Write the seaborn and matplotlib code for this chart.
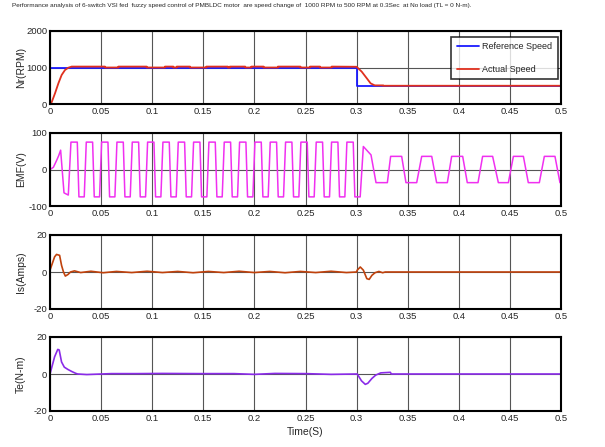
import seaborn as sns
from matplotlib import pyplot as plt

# ---- data ------------------------------------------------------------------
title = ("Performance analysis of 6-switch VSI fed  fuzzy speed control of PMBLDC motor  "
         "are speed change of  1000 RPM to 500 RPM at 0.3Sec  at No load (TL = 0 N-m).")

xticks = [0, 0.05, 0.1, 0.15, 0.2, 0.25, 0.3, 0.35, 0.4, 0.45, 0.5]
xtick_labels = ["0", "0.05", "0.1", "0.15", "0.2", "0.25", "0.3", "0.35", "0.4", "0.45", "0.5"]

# speed (RPM)
ref_t = [0, 0.3, 0.3, 0.5]
ref_v = [1000, 1000, 500, 500]
act_t = [0, 0.0016, 0.0049, 0.0082, 0.0114, 0.0147, 0.018, 0.0212,
         0.0538, 0.0538, 0.0669, 0.0669, 0.0946, 0.0946, 0.1125, 0.1125,
         0.1207, 0.1207, 0.124, 0.124, 0.137, 0.137, 0.153, 0.153,
         0.174, 0.174, 0.176, 0.176, 0.191, 0.191, 0.197, 0.197,
         0.209, 0.209, 0.223, 0.223, 0.245, 0.245, 0.2544, 0.2544,
         0.2642, 0.2642, 0.2756, 0.2756, 0.3, 0.305, 0.31, 0.3137,
         0.317, 0.318, 0.326, 0.326, 0.5]
act_v = [0, 46, 292, 566, 795, 932, 995, 1025,
         1025, 1000, 1000, 1025, 1025, 1000, 1000, 1025,
         1025, 1000, 1000, 1025, 1025, 1000, 1000, 1025,
         1025, 1000, 1000, 1025, 1025, 1000, 1000, 1025,
         1025, 1000, 1000, 1025, 1025, 1000, 1000, 1025,
         1025, 1000, 1000, 1025, 1020, 886, 703, 566,
         520, 510, 510, 500, 500]

# back EMF (V): start-up, plateau corners at 1000 RPM, transient, plateau corners at 500 RPM
emf_start_t = [0, 0.0033, 0.0065, 0.0085, 0.0104, 0.0137, 0.0179]
emf_start_v = [0, 6, 25, 38, 53, -64, -70]
emf1_level = 75
emf1_top_on = [0.0205, 0.0355, 0.0505, 0.0655, 0.0805, 0.0955, 0.1105, 0.1255, 0.1405, 0.1555,
               0.1705, 0.1855, 0.2005, 0.2155, 0.2305, 0.2455, 0.2605, 0.2755, 0.2905]
emf1_top_off = [0.0267, 0.0417, 0.0567, 0.0717, 0.0867, 0.1017, 0.1167, 0.1317, 0.1467, 0.1617,
                0.1767, 0.1917, 0.2067, 0.2217, 0.2367, 0.2517, 0.2667, 0.2817, 0.2967]
emf1_bot_on = [0.0283, 0.0433, 0.0583, 0.0733, 0.0883, 0.1033, 0.1183, 0.1333, 0.1483, 0.1633,
               0.1783, 0.1933, 0.2083, 0.2233, 0.2383, 0.2533, 0.2683, 0.2833, 0.2983]
emf1_bot_off = [0.0335, 0.0485, 0.0635, 0.0785, 0.0935, 0.1085, 0.1235, 0.1385, 0.1535, 0.1685,
                0.1835, 0.1985, 0.2135, 0.2285, 0.2435, 0.2585, 0.2735, 0.2885, 0.3035]
emf_trans_t = [0.3066, 0.3141]
emf_trans_v = [63, 40]
emf2_level = 36
emf2_bot_on = [0.3190, 0.3483, 0.3783, 0.4083, 0.4387, 0.4680]
emf2_bot_off = [0.3301, 0.3588, 0.3888, 0.4188, 0.4485, 0.4788]
emf2_top_on = [0.3333, 0.3637, 0.3930, 0.4233, 0.4534, 0.4837]
emf2_top_off = [0.3441, 0.3735, 0.4038, 0.4331, 0.4632, 0.4941]
emf_end_t = [0.4990, 0.5]
emf_end_v = [-36, -36]

# stator current (A)
is_t = [0, 0.0045, 0.0064, 0.0094, 0.0113, 0.0132, 0.015, 0.0177, 0.02,
        0.024, 0.03, 0.04, 0.052, 0.065, 0.08, 0.095, 0.11, 0.125, 0.14,
        0.155, 0.17, 0.185, 0.2, 0.215, 0.23, 0.245, 0.26, 0.275, 0.29,
        0.3, 0.3006, 0.3036, 0.3066, 0.31, 0.3123, 0.315, 0.318, 0.3218,
        0.3255, 0.328, 0.5]
is_v = [1, 8.2, 9.5, 9, 3.6, 0, -2.2, -1.3, 0,
        0.6, -0.3, 0.4, -0.4, 0.3, -0.3, 0.4, -0.3, 0.3, -0.4,
        0.3, -0.3, 0.4, -0.3, 0.3, -0.4, 0.3, -0.3, 0.4, -0.3,
        0, 1, 2.7, 1, -3.6, -4, -1.8, -0.4, 0.3,
        -0.4, 0, 0]

# electromagnetic torque (N-m)
te_t = [0, 0.0045, 0.0076, 0.009, 0.0113, 0.014, 0.0177, 0.0215, 0.025, 0.027,
        0.036, 0.06, 0.085, 0.11, 0.145, 0.18, 0.2, 0.22, 0.25, 0.275, 0.3,
        0.3006, 0.3048, 0.3085, 0.311, 0.315, 0.3187, 0.3236, 0.333, 0.334, 0.5]
te_v = [0, 9.3, 13.3, 13, 6.5, 3.7, 2.4, 1.3, 0.4, 0,
        -0.3, 0.2, 0.2, 0.3, 0.2, 0.2, -0.2, 0.3, 0.2, -0.2, 0,
        0, -3.7, -5.6, -5, -2.4, -0.6, 0.6, 0.9, 0, 0]


def trapezoid(top_on, top_off, bot_on, bot_off, level):
    pts = [(t, level) for t in top_on + top_off] + [(t, -level) for t in bot_on + bot_off]
    pts.sort()
    return [p[0] for p in pts], [p[1] for p in pts]


e1_t, e1_v = trapezoid(emf1_top_on, emf1_top_off, emf1_bot_on, emf1_bot_off, emf1_level)
e2_t, e2_v = trapezoid(emf2_top_on, emf2_top_off, emf2_bot_on, emf2_bot_off, emf2_level)
emf_t = emf_start_t + e1_t + emf_trans_t + e2_t + emf_end_t
emf_v = emf_start_v + e1_v + emf_trans_v + e2_v + emf_end_v

# ---- figure --------------------------------------------------------------
sns.set_style("white")
plt.rcParams["font.family"] = ["Liberation Sans", "DejaVu Sans"]
plt.rcParams["axes.unicode_minus"] = False

fig = plt.figure(figsize=(6.05, 4.47), dpi=100)
W, H = 605.0, 447.0
boxes = [(31, 104), (133, 206), (235, 309), (337, 411)]
axes = [fig.add_axes([50 / W, 1 - b / H, 511 / W, (b - t) / H]) for t, b in boxes]

panels = [
    ("Nr(RPM)", (0, 2000), [0, 1000, 2000]),
    ("EMF(V)", (-100, 100), [-100, 0, 100]),
    ("Is(Amps)", (-20, 20), [-20, 0, 20]),
    ("Te(N-m)", (-20, 20), [-20, 0, 20]),
]

for ax, (label, ylim, yticks) in zip(axes, panels):
    ax.set_xlim(0, 0.5)
    ax.set_ylim(*ylim)
    ax.set_xticks(xticks)
    ax.set_xticklabels(xtick_labels)
    ax.set_yticks(yticks)
    ax.grid(True, color="#555555", linewidth=0.8)
    ax.set_axisbelow(True)
    ax.tick_params(direction="in", length=3, labelsize=6.8, pad=2, width=0.8)
    for s in ax.spines.values():
        s.set_linewidth(1.5)
        s.set_color("black")
    ax.set_ylabel(label, fontsize=7.5)
    ax.yaxis.set_label_coords(-24 / 511, 0.5)

ax = axes[0]
sns.lineplot(x=ref_t, y=ref_v, ax=ax, sort=False, estimator=None, color="#1a1aff", lw=1.3,
             label="Reference Speed")
sns.lineplot(x=act_t, y=act_v, ax=ax, sort=False, estimator=None, color="#e0301e", lw=1.3,
             label="Actual Speed")
leg = ax.legend(loc="upper right", bbox_to_anchor=(0.994, 0.918), borderaxespad=0,
                fontsize=6.5, frameon=True, fancybox=False, edgecolor="black",
                borderpad=0.6, handlelength=2.5, labelspacing=1.5, handletextpad=0.35)
leg.get_frame().set_linewidth(1.2)

sns.lineplot(x=emf_t, y=emf_v, ax=axes[1], sort=False, estimator=None, color="#f030f0", lw=1.1)
sns.lineplot(x=is_t, y=is_v, ax=axes[2], sort=False, estimator=None, color="#c0420c", lw=1.2)
sns.lineplot(x=te_t, y=te_v, ax=axes[3], sort=False, estimator=None, color="#8a2be8", lw=1.2)

axes[3].set_xlabel("Time(S)", fontsize=7.5, labelpad=3)
fig.text(12 / W, 1 - 6 / H, title, ha="left", va="center", fontsize=4.6)

fig.savefig("out.png", dpi=100)
